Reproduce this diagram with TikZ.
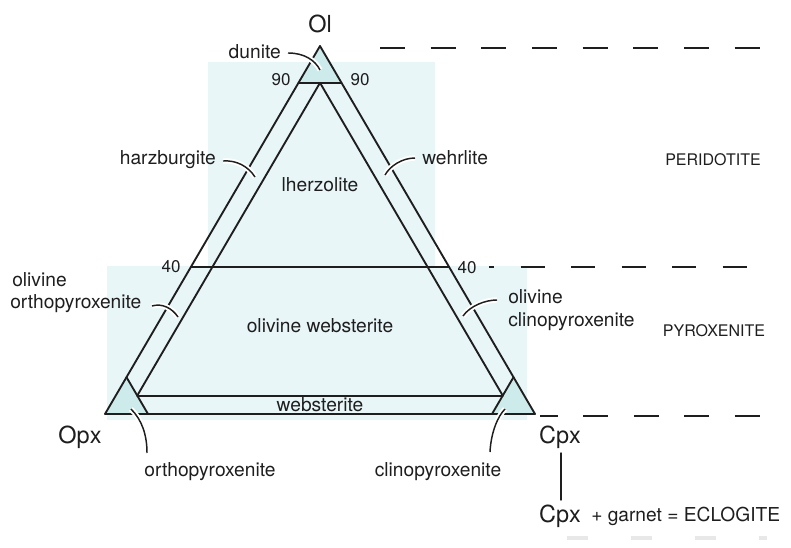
\documentclass[tikz,border=0pt]{standalone}
\usepackage{fontspec}
\setmainfont{TeX Gyre Heros}
\definecolor{tint}{RGB}{233,246,248}
\definecolor{corner}{RGB}{206,235,235}
\definecolor{ink}{RGB}{30,30,30}
\begin{document}
\begin{tikzpicture}[x=0.75pt,y=-0.75pt,
  ln/.style={draw=ink,line width=1.4pt,line cap=round,line join=round},
  lead/.style={draw=ink,line width=1.1pt,preaction={draw=white,line width=4pt}},
  lbl/.style={font=\fontsize{14.4}{16}\selectfont,inner sep=0pt,text=ink},
  capl/.style={font=\fontsize{12}{14}\selectfont,inner sep=0pt,text=ink},
  num/.style={font=\fontsize{12.75}{14}\selectfont,inner sep=0pt,text=ink},
  big/.style={font=\fontsize{17.6}{20}\selectfont,inner sep=0pt,text=ink},
  dsh/.style={draw=ink,line width=1.3pt}]
\useasboundingbox (0,0) rectangle (791,548);
\coordinate (A) at (320,46);
\coordinate (B) at (105,414);
\coordinate (C) at (535,414);
% barycentric points
\coordinate (n9l) at (barycentric cs:A=0.9,B=0.1,C=0);
\coordinate (n9r) at (barycentric cs:A=0.9,B=0,C=0.1);
\coordinate (f4l) at (barycentric cs:A=0.4,B=0.6,C=0);
\coordinate (f4r) at (barycentric cs:A=0.4,B=0,C=0.6);
\coordinate (ia) at (barycentric cs:A=0.9,B=0.05,C=0.05);
\coordinate (ib) at (barycentric cs:A=0.05,B=0.9,C=0.05);
\coordinate (ic) at (barycentric cs:A=0.05,B=0.05,C=0.9);
\coordinate (ob1) at (barycentric cs:A=0.1,B=0.9,C=0);
\coordinate (ob2) at (barycentric cs:A=0,B=0.9,C=0.1);
\coordinate (oc1) at (barycentric cs:A=0.1,B=0,C=0.9);
\coordinate (oc2) at (barycentric cs:A=0,B=0.1,C=0.9);
% background tint
\fill[tint] (208,62) rectangle (435,266);
\fill[tint] (107,266) rectangle (527,420);
\fill[corner] (A) -- (n9l) -- (n9r) -- cycle;
\fill[corner] (B) -- (ob1) -- (ob2) -- cycle;
\fill[corner] (C) -- (oc1) -- (oc2) -- cycle;
% triangle lines
\draw[ln] (A) -- (B) -- (C) -- cycle;
\draw[ln] (n9l) -- (n9r);
\draw[ln] (f4l) -- (f4r);
\draw[ln] (ib) -- (ia) -- (ic);
\draw[ln] (ib) -- (ic);
\draw[ln] (ob1) -- (ob2);
\draw[ln] (oc1) -- (oc2);
% dashed guide lines
\draw[dsh,dash pattern=on 18.75pt off 19.25pt] (380,48) -- (761,48);
\draw[dsh,dash pattern=on 18pt off 19.9pt,dash phase=14.25pt] (489,267) -- (757,267);
\draw[dsh,dash pattern=on 18.75pt off 19.1pt,dash phase=5.25pt] (540,416) -- (762,416);
\draw[gray!18,line width=3.5pt,dash pattern=on 16pt off 32pt] (567,538) -- (767,538);
% labels
\node[big,anchor=base] (ol) at (320,33) {Ol};
\node[big,anchor=base] (opx) at (80,443) {Opx};
\node[big,anchor=base] (cpx) at (560,443) {Cpx};
\node[big,anchor=base] (cpx2) at (560,522) {Cpx};
\node[lbl,anchor=base west] (ecl) at (591,521) {+ garnet = ECLOGITE};
\draw[ln,line width=1.1pt] (561,453) -- (561,500);
\node[num,anchor=base] (n90l) at (281,86) {90};
\node[num,anchor=base] (n90r) at (360,86) {90};
\node[num,anchor=base] (n40l) at (171,273) {40};
\node[num,anchor=base] (n40r) at (467,274) {40};
\node[lbl,anchor=base east] (dun) at (281,59) {dunite};
\node[lbl,anchor=base east] (harz) at (216,165) {harzburgite};
\node[lbl,anchor=base west] (wehr) at (422,165) {wehrlite};
\node[lbl,anchor=base] (lherz) at (320,192) {lherzolite};
\node[capl,anchor=base] (perid) at (713,166) {PERIDOTITE};
\node[lbl,anchor=base west] (olo1) at (12,287) {olivine};
\node[lbl,anchor=base west] (olo2) at (10,309) {orthopyroxenite};
\node[lbl,anchor=base west] (olc1) at (508,304) {olivine};
\node[lbl,anchor=base west] (olc2) at (508,327) {clinopyroxenite};
\node[lbl,anchor=base] (olweb) at (320,333) {olivine websterite};
\node[capl,anchor=base] (pyro) at (714,337) {PYROXENITE};
\node[lbl,anchor=base] (web) at (320,411) {websterite};
\node[lbl,anchor=base] (orth) at (210,476) {orthopyroxenite};
\node[lbl,anchor=base] (clin) at (438,476) {clinopyroxenite};
% leaders
\coordinate (dunE) at (320,70);
\coordinate (harzE) at (255,177);
\coordinate (wehrE) at (385,175);
\coordinate (oloE) at (178,317);
\coordinate (olcE) at (463,316);
\coordinate (orthE) at (131,409);
\coordinate (clinE) at (505,409);
\draw[lead] (288,53) .. controls (304,53) and (315,60) .. (dunE);
\draw[lead] (223,161) .. controls (236,160) and (248,166) .. (harzE);
\draw[lead] (415,158) .. controls (402,158) and (390,166) .. (wehrE);
\draw[lead] (152,306) .. controls (162,303) and (172,308) .. (oloE);
\draw[lead] (497,300) .. controls (485,300) and (470,306) .. (olcE);
\draw[lead] (orthE) .. controls (142,420) and (147,435) .. (147,453);
\draw[lead] (clinE) .. controls (498,416) and (491,432) .. (490,452);
\end{tikzpicture}
\end{document}
